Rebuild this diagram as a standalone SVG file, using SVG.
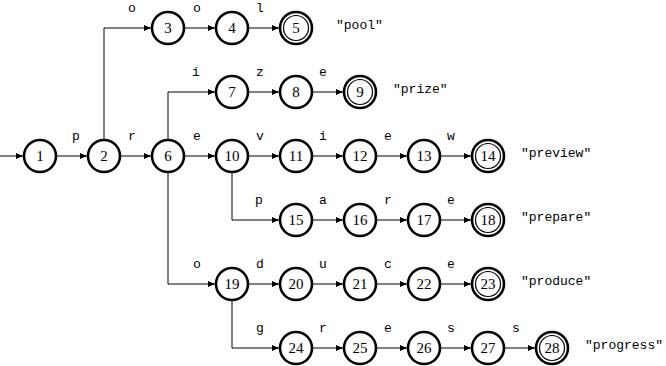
<svg xmlns="http://www.w3.org/2000/svg" width="666" height="366" viewBox="0 0 666 366">
<style>
.n circle{fill:#fff;stroke:#000;stroke-width:2.6}
.n circle.in{fill:none;stroke-width:1.2}
.n text{font-family:"Liberation Serif",serif;font-size:15px;text-anchor:middle;fill:#000}
.e path{fill:none;stroke:#000;stroke-width:1;marker-end:url(#ah)}
.lb{font-family:"Liberation Mono",monospace;font-size:13px;text-anchor:middle;fill:#000}
.w{font-family:"Liberation Mono",monospace;font-size:13px;fill:#000}
</style>
<defs>
<marker id="ah" markerUnits="userSpaceOnUse" markerWidth="8" markerHeight="6" refX="7" refY="3" orient="auto">
<path d="M0,0 L7,3 L0,6 z" fill="#000"/>
</marker>
</defs>
<g id="connectors" class="e">
<path d="M0,156 H23"/>
<path d="M57,156 H87"/>
<path d="M121,156 H151"/>
<path d="M104,139 V28 H151"/>
<path d="M185,28 H215"/>
<path d="M249,28 H279"/>
<path d="M168,139 V92 H215"/>
<path d="M249,92 H279"/>
<path d="M313,92 H343"/>
<path d="M185,156 H215"/>
<path d="M249,156 H279"/>
<path d="M313,156 H343"/>
<path d="M377,156 H407"/>
<path d="M441,156 H471"/>
<path d="M232,173 V220 H279"/>
<path d="M313,220 H343"/>
<path d="M377,220 H407"/>
<path d="M441,220 H471"/>
<path d="M168,173 V284 H215"/>
<path d="M249,284 H279"/>
<path d="M313,284 H343"/>
<path d="M377,284 H407"/>
<path d="M441,284 H471"/>
<path d="M232,301 V348 H279"/>
<path d="M313,348 H343"/>
<path d="M377,348 H407"/>
<path d="M441,348 H471"/>
<path d="M505,348 H535"/>
</g>
<g id="edge-labels" class="lb">
<text x="76" y="140">p</text>
<text x="132" y="140">r</text>
<text x="132" y="12">o</text>
<text x="197" y="12">o</text>
<text x="260" y="12">l</text>
<text x="196" y="76">i</text>
<text x="260" y="76">z</text>
<text x="323" y="76">e</text>
<text x="197" y="140">e</text>
<text x="260" y="140">v</text>
<text x="323" y="140">i</text>
<text x="388" y="140">e</text>
<text x="451" y="140">w</text>
<text x="259" y="204">p</text>
<text x="323" y="204">a</text>
<text x="388" y="204">r</text>
<text x="451" y="204">e</text>
<text x="197" y="268">o</text>
<text x="260" y="268">d</text>
<text x="323" y="268">u</text>
<text x="388" y="268">c</text>
<text x="451" y="268">e</text>
<text x="260" y="332">g</text>
<text x="323" y="332">r</text>
<text x="388" y="332">e</text>
<text x="451" y="332">s</text>
<text x="516" y="332">s</text>
</g>
<g id="n1" class="n"><circle cx="40" cy="156" r="16"/><text x="40" y="161">1</text></g>
<g id="n2" class="n"><circle cx="104" cy="156" r="16"/><text x="104" y="161">2</text></g>
<g id="n3" class="n"><circle cx="168" cy="28" r="16"/><text x="168" y="33">3</text></g>
<g id="n4" class="n"><circle cx="232" cy="28" r="16"/><text x="232" y="33">4</text></g>
<g id="n5" class="n"><circle cx="296" cy="28" r="16"/><circle class="in" cx="296" cy="28" r="12.5"/><text x="296" y="33">5</text></g>
<g id="n6" class="n"><circle cx="168" cy="156" r="16"/><text x="168" y="161">6</text></g>
<g id="n7" class="n"><circle cx="232" cy="92" r="16"/><text x="232" y="97">7</text></g>
<g id="n8" class="n"><circle cx="296" cy="92" r="16"/><text x="296" y="97">8</text></g>
<g id="n9" class="n"><circle cx="360" cy="92" r="16"/><circle class="in" cx="360" cy="92" r="12.5"/><text x="360" y="97">9</text></g>
<g id="n10" class="n"><circle cx="232" cy="156" r="16"/><text x="232" y="161">10</text></g>
<g id="n11" class="n"><circle cx="296" cy="156" r="16"/><text x="296" y="161">11</text></g>
<g id="n12" class="n"><circle cx="360" cy="156" r="16"/><text x="360" y="161">12</text></g>
<g id="n13" class="n"><circle cx="424" cy="156" r="16"/><text x="424" y="161">13</text></g>
<g id="n14" class="n"><circle cx="488" cy="156" r="16"/><circle class="in" cx="488" cy="156" r="12.5"/><text x="488" y="161">14</text></g>
<g id="n15" class="n"><circle cx="296" cy="220" r="16"/><text x="296" y="225">15</text></g>
<g id="n16" class="n"><circle cx="360" cy="220" r="16"/><text x="360" y="225">16</text></g>
<g id="n17" class="n"><circle cx="424" cy="220" r="16"/><text x="424" y="225">17</text></g>
<g id="n18" class="n"><circle cx="488" cy="220" r="16"/><circle class="in" cx="488" cy="220" r="12.5"/><text x="488" y="225">18</text></g>
<g id="n19" class="n"><circle cx="232" cy="284" r="16"/><text x="232" y="289">19</text></g>
<g id="n20" class="n"><circle cx="296" cy="284" r="16"/><text x="296" y="289">20</text></g>
<g id="n21" class="n"><circle cx="360" cy="284" r="16"/><text x="360" y="289">21</text></g>
<g id="n22" class="n"><circle cx="424" cy="284" r="16"/><text x="424" y="289">22</text></g>
<g id="n23" class="n"><circle cx="488" cy="284" r="16"/><circle class="in" cx="488" cy="284" r="12.5"/><text x="488" y="289">23</text></g>
<g id="n24" class="n"><circle cx="296" cy="348" r="16"/><text x="296" y="353">24</text></g>
<g id="n25" class="n"><circle cx="360" cy="348" r="16"/><text x="360" y="353">25</text></g>
<g id="n26" class="n"><circle cx="424" cy="348" r="16"/><text x="424" y="353">26</text></g>
<g id="n27" class="n"><circle cx="488" cy="348" r="16"/><text x="488" y="353">27</text></g>
<g id="n28" class="n"><circle cx="552" cy="348" r="16"/><circle class="in" cx="552" cy="348" r="12.5"/><text x="552" y="353">28</text></g>
<g id="words" class="w">
<text x="336" y="29">"pool"</text>
<text x="393" y="93">"prize"</text>
<text x="521" y="157">"preview"</text>
<text x="521" y="221">"prepare"</text>
<text x="521" y="285">"produce"</text>
<text x="585" y="349">"progress"</text>
</g>
</svg>
